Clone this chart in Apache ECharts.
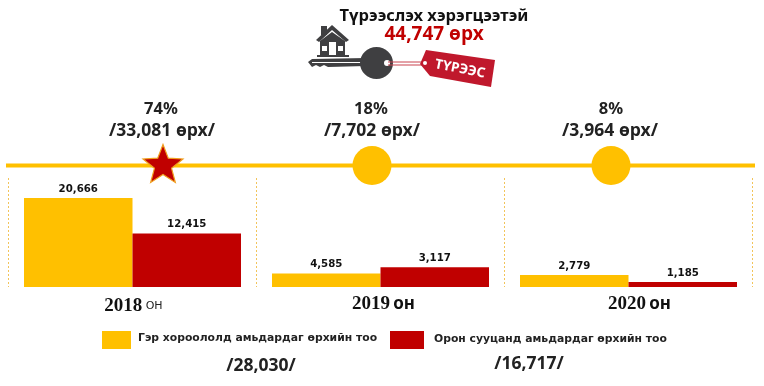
<!DOCTYPE html>
<html><head><meta charset="utf-8">
<style>html,body{margin:0;padding:0;background:#fff}#c{width:764px;height:386px}</style>
<script src="https://cdn.jsdelivr.net/npm/echarts@6/dist/echarts.min.js"></script>
</head><body><div id="c"></div>
<script>
const years = ['2018', '2019', '2020'];
const yearSuffix = ['ОН', 'он', 'он'];
const gerBars = [20666, 3117, 2779];
const aptBars = [12415, 4585, 1185];
const gerLabels = ['20,666', '4,585', '2,779'];
const aptLabels = ['12,415', '3,117', '1,185'];
const shares = ['74%', '18%', '8%'];
const amounts = ['/33,081 өрх/', '/7,702 өрх/', '/3,964 өрх/'];
const gerName = 'Гэр хороололд амьдардаг өрхийн тоо';
const aptName = 'Орон сууцанд амьдардаг өрхийн тоо';
const gerTotal = '/28,030/';
const aptTotal = '/16,717/';
const titleText = 'Түрээслэх хэрэгцээтэй';
const totalText = '44,747 өрх';
const tagText = 'ТҮРЭЭС';

const YEL = '#FFC000', RED = '#C00000', DARK = '#3F3F41';
const UI = '"DejaVu Sans"', BODY = '"Noto Sans"';
const T = (x, y, text, size, color, weight, family, align, extra) => ({
  type: 'text', x, y, z: 20,
  style: Object.assign({ text, font: `${weight} ${size}px ${family}`, fill: color, align: align || 'center', verticalAlign: 'middle' }, extra || {})
});
const textX = [161, 371, 611];

const graphic = [
  { type: 'rect', z: 5, shape: { x: 6, y: 163.5, width: 749, height: 4 }, style: { fill: YEL } },
  { type: 'polygon', z: 6, x: 163, y: 165.5, shape: { points: starPoints() }, style: { fill: RED, stroke: '#F0A020', lineWidth: 1.2 } },
  { type: 'circle', z: 6, shape: { cx: 372, cy: 165.5, r: 19.5 }, style: { fill: YEL } },
  { type: 'circle', z: 6, shape: { cx: 611, cy: 165.5, r: 19.5 }, style: { fill: YEL } },
  T(434, 16, titleText, 16.5, '#111', 'bold', BODY),
  T(434, 35, totalText, 19, RED, 'bold', BODY),
  T(261, 366, gerTotal, 17.5, '#222', 'bold', BODY),
  T(529, 364, aptTotal, 17.5, '#222', 'bold', BODY),
  { type: 'rect', shape: { x: 102, y: 331, width: 29, height: 18 }, style: { fill: YEL } },
  { type: 'rect', shape: { x: 390, y: 331, width: 34, height: 18 }, style: { fill: RED } },
  T(138, 338, gerName, 10.8, '#222', 'bold', UI, 'left'),
  T(434, 339, aptName, 10.8, '#222', 'bold', UI, 'left'),
  // house
  { type: 'polygon', shape: { points: [[332,25],[349,40],[346,42],[332,30],[319,42],[316,40]] }, style: { fill: DARK } },
  { type: 'rect', shape: { x: 321, y: 26, width: 6, height: 9 }, style: { fill: DARK } },
  { type: 'polygon', shape: { points: [[320,41],[332,32],[345,41],[345,55],[320,55]] }, style: { fill: DARK } },
  { type: 'rect', shape: { x: 329, y: 42, width: 7, height: 13 }, style: { fill: '#fff' } },
  { type: 'rect', shape: { x: 322, y: 46, width: 5, height: 5 }, style: { fill: '#fff' } },
  { type: 'rect', shape: { x: 338, y: 46, width: 5, height: 5 }, style: { fill: '#fff' } },
  { type: 'rect', shape: { x: 317, y: 55, width: 32, height: 2 }, style: { fill: DARK } },
  // key
  { type: 'polygon', shape: { points: [[308,62],[312,59],[366,58],[366,66],[328,67],[324,65],[320,67],[316,65],[312,67]] }, style: { fill: DARK } },
  { type: 'rect', shape: { x: 312, y: 62, width: 50, height: 1 }, style: { fill: '#fff' } },
  { type: 'ellipse', shape: { cx: 376.5, cy: 63, rx: 16.5, ry: 16 }, style: { fill: DARK } },
  { type: 'circle', shape: { cx: 387, cy: 63, r: 3 }, style: { fill: '#fff' } },
  { type: 'line', shape: { x1: 388, y1: 62, x2: 424, y2: 62 }, style: { stroke: '#C9434F', lineWidth: 1 } },
  { type: 'line', shape: { x1: 388, y1: 65, x2: 424, y2: 65 }, style: { stroke: '#C9434F', lineWidth: 1 } },
  // tag
  { type: 'polygon', z: 10, shape: { points: [[426,50],[495,60],[491,87],[430,76],[420,64]] }, style: { fill: '#C0182C' } },
  { type: 'circle', z: 11, shape: { cx: 425, cy: 63, r: 2 }, style: { fill: '#fff' } },
  { type: 'text', z: 12, x: 460, y: 69, rotation: -11 * Math.PI / 180,
    style: { text: tagText, font: 'bold 13.5px ' + BODY, fill: '#fff', align: 'center', verticalAlign: 'middle' } }
];
years.forEach((y, i) => {
  graphic.push(T(textX[i], 109, shares[i], 16.5, '#222', 'bold', BODY));
  graphic.push(T(textX[i] + (i === 2 ? -1 : 1), 131, amounts[i], 17.5, '#222', 'bold', BODY));
});
function starPoints() {
  const pts = [];
  for (let i = 0; i < 10; i++) {
    const r = i % 2 ? 9 : 21, a = -Math.PI / 2 + i * Math.PI / 5;
    pts.push([r * Math.cos(a), r * Math.sin(a)]);
  }
  return pts;
}
const labelFor = arr => ({
  show: true, position: 'top', distance: 4, color: '#111',
  fontFamily: 'DejaVu Sans', fontWeight: 'bold', fontSize: 10.2,
  formatter: p => arr[p.dataIndex]
});
const serif = { fontFamily: 'Liberation Serif', fontWeight: 'bold', fontSize: 19, color: '#111' };
const suffix = { fontFamily: 'Noto Sans', fontWeight: 'bold', fontSize: 17, color: '#111' };
const chart = echarts.init(document.getElementById('c'), null, { renderer: 'canvas' });
chart.setOption({
  animation: false,
  backgroundColor: '#fff',
  grid: { left: 8.5, width: 744, top: 178, height: 109 },
  xAxis: {
    type: 'category', data: years,
    axisLine: { show: false }, axisTick: { show: false },
    splitLine: { show: true, lineStyle: { color: '#F2C45A', type: [2, 2], width: 1 } },
    axisLabel: {
      margin: 8, interval: 0,
      formatter: (v, i) => i === 0
        ? `{a0|${v}} {b|${yearSuffix[i]}}`
        : `{a${i}|${v}} {s|${yearSuffix[i]}}`,
      rich: {
        a0: Object.assign({}, serif, { padding: [2, 0, 0, 2] }),
        b: { fontFamily: 'DejaVu Sans', fontSize: 11, color: '#222', padding: [2, 0, 0, 0] },
        a1: Object.assign({}, serif, { padding: [0, 0, 0, 6] }),
        a2: Object.assign({}, serif, { padding: [0, 0, 0, 22] }),
        s: suffix
      }
    }
  },
  yAxis: { type: 'value', min: 0, max: 25300, show: false, splitLine: { show: false } },
  series: [
    { type: 'bar', name: gerName, data: gerBars, barGap: 0, barCategoryGap: '12.5%', itemStyle: { color: YEL }, label: labelFor(gerLabels) },
    { type: 'bar', name: aptName, data: aptBars, barGap: 0, barCategoryGap: '12.5%', itemStyle: { color: RED }, label: labelFor(aptLabels) }
  ],
  graphic
});
</script></body></html>
